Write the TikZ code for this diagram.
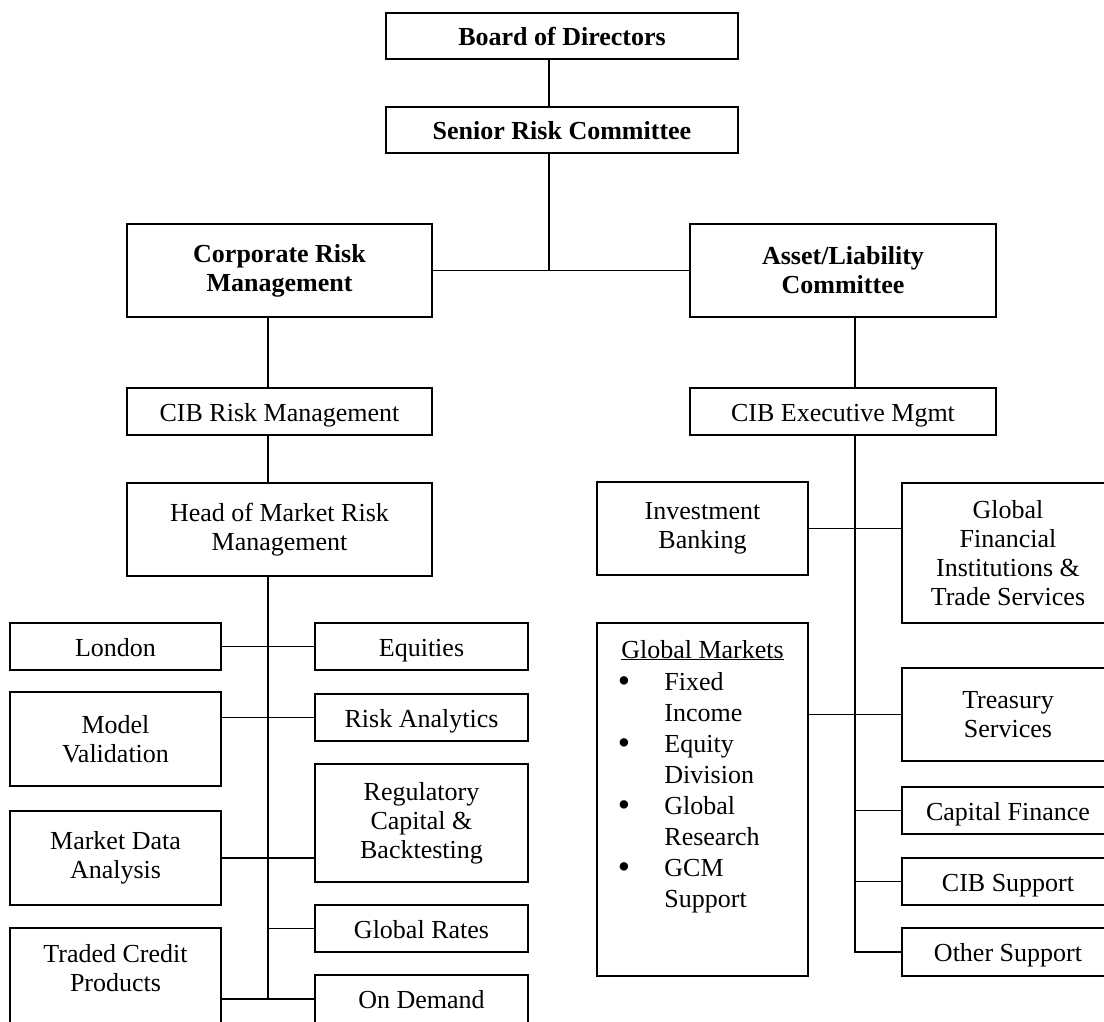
\documentclass[tikz,border=0pt]{standalone}
\usepackage{fontspec}
\usepackage{graphicx}
\setmainfont{Liberation Serif}
\newcommand\dfont{\fontsize{26}{29}\selectfont}
\newcommand\dbfont{\fontsize{26}{29}\selectfont\bfseries}
\newcommand\listfont{\fontsize{26}{31}\selectfont}
\newcommand\bigbul{\raisebox{-2pt}{\scalebox{1.35}{\textbullet}}}
\begin{document}
\begin{tikzpicture}[x=1pt,y=-1pt,line width=1.7pt,
  box/.style={draw,inner sep=0pt,align=center,font=\dfont},
  bbox/.style={box,font=\dbfont},
  one/.style={text height=19pt,text depth=0pt},
  conn/.style={line width=1.7pt}]
\clip (0,0) rectangle (1104,1021);
\fill[white] (0,0) rectangle (1104,1021);
% top levels
\node[bbox,one,minimum width=352,minimum height=46] (board) at (562,36) {Board of Directors};
\node[bbox,one,minimum width=352,minimum height=46] (senior) at (562,130) {Senior Risk Committee};
\node[bbox,minimum width=305,minimum height=93] (corp) at (279.5,270.5) {Corporate Risk\\Management};
\node[bbox,minimum width=306,minimum height=93] (alco) at (843,270.5) {Asset/Liability\\Committee};
\node[box,one,minimum width=305,minimum height=47] (cibrisk) at (279.5,411.5) {CIB Risk Management};
\node[box,one,minimum width=306,minimum height=47] (cibexec) at (843,411.5) {CIB Executive Mgmt};
\node[box,minimum width=305,minimum height=93] (head) at (279.5,529.5) {Head of Market Risk\\Management};
% left column
\node[box,one,minimum width=211,minimum height=47] (london) at (115.5,646.5) {London};
\node[box,minimum width=211,minimum height=94] (model) at (115.5,739) {Model\\Validation};
\node[box,minimum width=211,minimum height=94] (mkt) at (115.5,858) {Market Data\\Analysis};
\node[box,minimum width=211,minimum height=104] (traded) at (115.5,980)
  {\raisebox{9pt}[\height][\depth]{\begin{tabular}{@{}c@{}}Traded Credit\\Products\end{tabular}}};
\node[box,one,minimum width=213,minimum height=47] (equities) at (421.5,646.5) {Equities};
\node[box,one,minimum width=213,minimum height=47] (riskan) at (421.5,717.5) {Risk Analytics};
\node[box,minimum width=213,minimum height=118] (reg) at (421.5,823) {Regulatory\\Capital \&\\Backtesting};
\node[box,one,minimum width=213,minimum height=47] (rates) at (421.5,928.5) {Global Rates};
\node[box,one,minimum width=213,minimum height=48] (ondemand) at (421.5,999) {On Demand};
% right side
\node[box,minimum width=211,minimum height=93] (invest) at (702.5,528.5) {Investment\\Banking};
\node[box,minimum width=212,minimum height=140] (globfin) at (1008,553) {Global\\Financial\\Institutions \&\\Trade Services};
\node[draw,inner sep=0pt,minimum width=211,minimum height=353] (gm) at (702.5,799.5) {};
\node[font=\dfont,anchor=base,inner sep=0pt] (gmtitle) at (702.5,658) {\underline{Global Markets}};
\node[font=\listfont,anchor=north west,inner sep=0pt,align=left] (gmlist) at (617,667.5)
  {\begin{tabular}{@{}p{46.6pt}@{}l@{}}\bigbul & Fixed\\ & Income\\ \bigbul & Equity\\ & Division\\ \bigbul & Global\\ & Research\\ \bigbul & GCM\\ & Support\end{tabular}};
\node[box,minimum width=212,minimum height=93] (treasury) at (1008,714.5) {Treasury\\Services};
\node[box,one,minimum width=212,minimum height=47] (capital) at (1008,810.5) {Capital Finance};
\node[box,one,minimum width=212,minimum height=47] (cibsup) at (1008,881.5) {CIB Support};
\node[box,one,minimum width=212,minimum height=48] (other) at (1008,952) {Other Support};
% connectors top
\coordinate (topx) at (549,0);
\coordinate (mid) at (549,270.5);
\draw[conn] (board.south -| topx) -- (senior.north -| topx);
\draw[conn] (senior.south -| topx) -- (mid);
\draw[conn] (corp.east) -- (alco.west);
% left trunk
\coordinate (lx) at (268,0);
\coordinate (lend) at (268,999);
\draw[conn] (corp.south -| lx) -- (cibrisk.north -| lx);
\draw[conn] (cibrisk.south -| lx) -- (head.north -| lx);
\draw[conn] (head.south -| lx) -- (lend);
\draw[conn] (london.east) -- (equities.west);
\draw[conn] (riskan.west -| model.east) -- (riskan.west);
\draw[conn] (mkt.east) -- (mkt.east -| reg.west);
\draw[conn] (rates.west -| lx) -- (rates.west);
\draw[conn] (ondemand.west -| traded.east) -- (ondemand.west);
% right trunk
\coordinate (rx) at (855,0);
\draw[conn] (alco.south -| rx) -- (cibexec.north -| rx);
\draw[conn] (cibexec.south -| rx) -- (other.west -| rx) -- (other.west);
\draw[conn] (invest.east) -- (invest.east -| globfin.west);
\draw[conn] (treasury.west -| gm.east) -- (treasury.west);
\draw[conn] (capital.west -| rx) -- (capital.west);
\draw[conn] (cibsup.west -| rx) -- (cibsup.west);
\end{tikzpicture}
\end{document}
